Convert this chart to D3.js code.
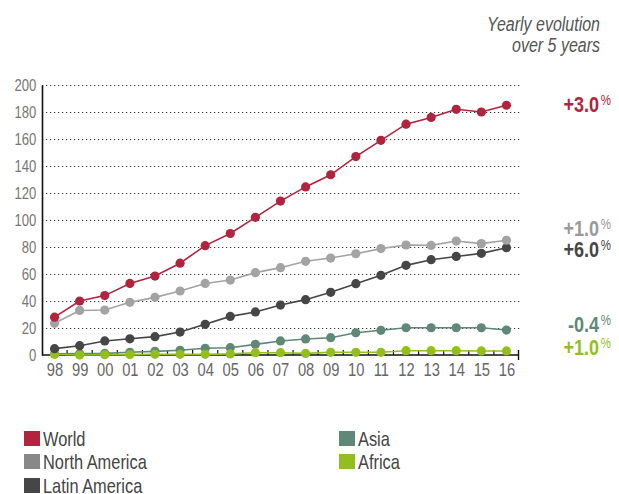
<!DOCTYPE html>
<html>
<head>
<meta charset="utf-8">
<script src="https://cdn.jsdelivr.net/npm/d3@7"></script>
<style>
  body { margin: 0; background: #fff; }
  svg { display: block; font-family: "Liberation Sans", Arial, sans-serif; }
</style>
</head>
<body>
<div id="chart"></div>
<script>
// Data
// =================================
const years = ["98", "99", "00", "01", "02", "03", "04", "05", "06", "07", "08", "09", "10", "11", "12", "13", "14", "15", "16"];
const world = [28, 40, 44, 53, 58.5, 68, 81, 90, 102, 114, 124.5, 133.5, 147, 159, 171, 176, 182, 180, 185];
const northAmerica = [23.5, 33, 33.3, 39, 42.7, 47.4, 53, 55.5, 61, 64.7, 69.4, 71.8, 75, 78.8, 81.5, 81.2, 84.4, 82.5, 85];
const latinAmerica = [4.7, 6.9, 10.4, 12, 13.6, 17, 22.7, 28.6, 31.9, 37, 41, 46.4, 52.8, 59, 66.4, 70.6, 73, 75.3, 79.5];
const asia = [0.8, 1, 1.2, 2, 2.7, 3.5, 5, 5.4, 7.9, 10.4, 11.9, 12.8, 16.5, 18.3, 20.2, 20.2, 20.2, 20.2, 18.5];
const africa = [0.5, 0, 0.2, 0.3, 0.5, 0.5, 0.5, 0.8, 1.7, 1.7, 1.2, 2, 2, 2, 3.2, 3.2, 3.2, 3, 3];
const seriesNames = ["World", "North America", "Latin America", "Asia", "Africa"];
const evolution = ["+3.0", "+1.0", "+6.0", "-0.4", "+1.0"];
const yTicks = [0, 20, 40, 60, 80, 100, 120, 140, 160, 180, 200];

const colors = ["#b0243d", "#a3a3a3", "#464646", "#5f8878", "#93bf1e"];
const legendColors = ["#b0243d", "#888888", "#464646", "#5f8878", "#93bf1e"];
const series = [world, northAmerica, latinAmerica, asia, africa];

// condensed look: no narrow font installed, so squeeze text horizontally
const narrow = "scale(0.82,1)";

// Set up chart
// =================================
const svgWidth = 619;
const svgHeight = 494;

const svg = d3.select("#chart")
  .append("svg")
  .attr("width", svgWidth)
  .attr("height", svgHeight);

const plot = { left: 42, right: 519, top: 85, bottom: 355 };

const x = d3.scalePoint()
  .domain(years)
  .range([plot.left, plot.right])
  .padding(0.5);

const y = d3.scaleLinear()
  .domain([0, 200])
  .range([plot.bottom, plot.top]);

// Gridlines
// =================================
svg.append("g")
  .selectAll("line")
  .data(yTicks.filter(d => d > 0))
  .enter()
  .append("line")
  .attr("x1", plot.left)
  .attr("x2", 521)
  .attr("y1", d => y(d) + 0.5)
  .attr("y2", d => y(d) + 0.5)
  .attr("stroke", "#333")
  .attr("stroke-width", 1.2)
  .attr("stroke-dasharray", "1.2,2.8");

// Axes
// =================================
const leftAxis = d3.axisLeft(y).tickValues(yTicks).tickSize(0).tickPadding(7);
const yAxis = svg.append("g")
  .attr("transform", `translate(${plot.left}, 0)`)
  .call(leftAxis);
yAxis.select(".domain").attr("stroke", "#111").attr("stroke-width", 1.6);
yAxis.selectAll("text")
  .attr("fill", "#777")
  .attr("transform", narrow)
  .style("font-size", "16px")
  .attr("dy", "0.36em");

const bottomAxis = d3.axisBottom(x).tickSize(0).tickPadding(8);
const xAxis = svg.append("g")
  .attr("transform", `translate(0, ${plot.bottom})`)
  .call(bottomAxis);
xAxis.select(".domain").remove();
xAxis.selectAll("text")
  .attr("fill", "#666")
  .attr("transform", narrow)
  .style("font-size", "18px");

svg.append("line")
  .attr("x1", plot.left)
  .attr("x2", plot.right)
  .attr("y1", plot.bottom)
  .attr("y2", plot.bottom)
  .attr("stroke", "#111")
  .attr("stroke-width", 1.6);

// small ticks at the boundaries between years
const step = x.step();
svg.append("g")
  .selectAll("line")
  .data(years.slice(1))
  .enter()
  .append("line")
  .attr("x1", d => x(d) - step / 2)
  .attr("x2", d => x(d) - step / 2)
  .attr("y1", plot.bottom)
  .attr("y2", plot.bottom - 5)
  .attr("stroke", "#111")
  .attr("stroke-width", 1.2);

svg.append("line")
  .attr("x1", plot.right - 0.5)
  .attr("x2", plot.right - 0.5)
  .attr("y1", plot.bottom - 5)
  .attr("y2", plot.bottom + 5)
  .attr("stroke", "#111")
  .attr("stroke-width", 1.4);

// Lines and points (drawn bottom series first)
// =================================
const line = d3.line()
  .x((d, i) => x(years[i]))
  .y(d => y(d));

const order = [3, 4, 2, 1, 0];
order.forEach(function(s) {
  const g = svg.append("g");
  g.append("path")
    .datum(series[s])
    .attr("d", line)
    .attr("fill", "none")
    .attr("stroke", colors[s])
    .attr("stroke-width", 1.6);
  g.selectAll("circle")
    .data(series[s])
    .enter()
    .append("circle")
    .attr("cx", (d, i) => x(years[i]))
    .attr("cy", d => y(d))
    .attr("r", 4.6)
    .attr("fill", colors[s]);
});

// Evolution labels
// =================================
const evoY = [112, 236, 257, 332, 355];
const evo = svg.append("g")
  .selectAll("g")
  .data(evolution)
  .enter()
  .append("g")
  .attr("transform", (d, i) => `translate(611, ${evoY[i]})`)
  .append("text")
  .attr("transform", narrow)
  .attr("text-anchor", "end")
  .attr("fill", (d, i) => i === 1 ? "#999" : colors[i])
  .style("font-weight", "bold")
  .style("font-size", "22px");
evo.append("tspan").text(d => d);
evo.append("tspan")
  .attr("dx", 2)
  .attr("dy", "-0.5em")
  .style("font-size", "14px")
  .style("font-weight", "normal")
  .text("%");

// Title
// =================================
svg.append("g")
  .attr("transform", "translate(600, 0)")
  .append("text")
  .attr("transform", narrow)
  .attr("text-anchor", "end")
  .attr("fill", "#555")
  .style("font-style", "italic")
  .style("font-size", "19.5px")
  .selectAll("tspan")
  .data(["Yearly evolution", "over 5 years"])
  .enter()
  .append("tspan")
  .attr("x", 0)
  .attr("y", (d, i) => 31 + i * 21)
  .text(d => d);

// Legend
// =================================
const legendPos = [[24, 431], [24, 454], [24, 478], [339, 431], [339, 454]];
const legend = svg.append("g")
  .selectAll("g")
  .data(seriesNames)
  .enter()
  .append("g")
  .attr("transform", (d, i) => `translate(${legendPos[i][0]}, ${legendPos[i][1]})`);
legend.append("rect")
  .attr("width", 16)
  .attr("height", 15)
  .attr("fill", (d, i) => legendColors[i]);
legend.append("g")
  .attr("transform", "translate(19, 15)")
  .append("text")
  .attr("transform", narrow)
  .attr("fill", "#444")
  .style("font-size", "20px")
  .text(d => d);
</script>
</body>
</html>
